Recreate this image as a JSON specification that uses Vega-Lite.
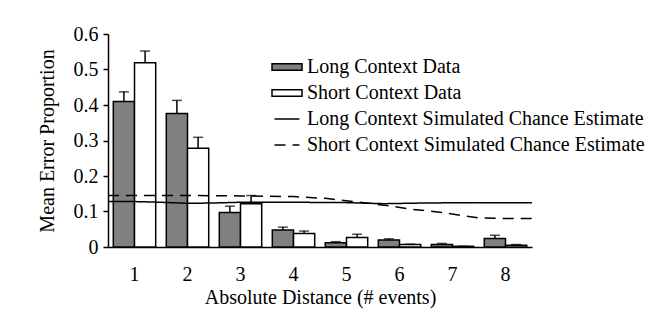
{
  "$schema": "https://vega.github.io/schema/vega-lite/v6.json",
  "width": 424,
  "height": 213,
  "autosize": {"type": "none"},
  "padding": {"left": 108, "top": 34, "right": 139, "bottom": 64},
  "background": "white",
  "config": {
    "view": {"stroke": null},
    "font": "Liberation Serif",
    "axis": {
      "labelFont": "Liberation Serif",
      "titleFont": "Liberation Serif",
      "labelFontSize": 20,
      "titleFontSize": 20,
      "titleFontWeight": "normal",
      "labelColor": "black",
      "titleColor": "black",
      "domainColor": "black",
      "domainWidth": 1.5,
      "tickColor": "black",
      "tickWidth": 1.5,
      "labelOverlap": false,
      "grid": false
    },
    "legend": {
      "labelFont": "Liberation Serif",
      "labelFontSize": 20,
      "labelColor": "black",
      "labelLimit": 500
    }
  },
  "datasets": {
    "bars": [
      {"d": 1, "series": "Long Context Data", "v": 0.41, "err": 0.437},
      {"d": 1, "series": "Short Context Data", "v": 0.519, "err": 0.552},
      {"d": 2, "series": "Long Context Data", "v": 0.376, "err": 0.413},
      {"d": 2, "series": "Short Context Data", "v": 0.278, "err": 0.309},
      {"d": 3, "series": "Long Context Data", "v": 0.097, "err": 0.115},
      {"d": 3, "series": "Short Context Data", "v": 0.122, "err": 0.145},
      {"d": 4, "series": "Long Context Data", "v": 0.048, "err": 0.056},
      {"d": 4, "series": "Short Context Data", "v": 0.038, "err": 0.045},
      {"d": 5, "series": "Long Context Data", "v": 0.012, "err": 0.015},
      {"d": 5, "series": "Short Context Data", "v": 0.027, "err": 0.036},
      {"d": 6, "series": "Long Context Data", "v": 0.02, "err": 0.023},
      {"d": 6, "series": "Short Context Data", "v": 0.007, "err": 0.008},
      {"d": 7, "series": "Long Context Data", "v": 0.007, "err": 0.01},
      {"d": 7, "series": "Short Context Data", "v": 0.002, "err": 0.002},
      {"d": 8, "series": "Long Context Data", "v": 0.024, "err": 0.033},
      {"d": 8, "series": "Short Context Data", "v": 0.005, "err": 0.007}
    ],
    "lines": [
      {"p": 0.5, "series": "Long Context Simulated Chance Estimate", "v": 0.128},
      {"p": 1, "series": "Long Context Simulated Chance Estimate", "v": 0.128},
      {"p": 1.5, "series": "Long Context Simulated Chance Estimate", "v": 0.126},
      {"p": 2, "series": "Long Context Simulated Chance Estimate", "v": 0.123},
      {"p": 2.5, "series": "Long Context Simulated Chance Estimate", "v": 0.124},
      {"p": 3, "series": "Long Context Simulated Chance Estimate", "v": 0.126},
      {"p": 4, "series": "Long Context Simulated Chance Estimate", "v": 0.126},
      {"p": 5, "series": "Long Context Simulated Chance Estimate", "v": 0.125},
      {"p": 5.7, "series": "Long Context Simulated Chance Estimate", "v": 0.122},
      {"p": 6.5, "series": "Long Context Simulated Chance Estimate", "v": 0.124},
      {"p": 7.5, "series": "Long Context Simulated Chance Estimate", "v": 0.125},
      {"p": 8.5, "series": "Long Context Simulated Chance Estimate", "v": 0.125},
      {"p": 0.5, "series": "Short Context Simulated Chance Estimate", "v": 0.145},
      {"p": 1, "series": "Short Context Simulated Chance Estimate", "v": 0.145},
      {"p": 2, "series": "Short Context Simulated Chance Estimate", "v": 0.145},
      {"p": 3, "series": "Short Context Simulated Chance Estimate", "v": 0.144},
      {"p": 4, "series": "Short Context Simulated Chance Estimate", "v": 0.142},
      {"p": 4.6, "series": "Short Context Simulated Chance Estimate", "v": 0.137},
      {"p": 5.2, "series": "Short Context Simulated Chance Estimate", "v": 0.127},
      {"p": 5.75, "series": "Short Context Simulated Chance Estimate", "v": 0.117},
      {"p": 6.25, "series": "Short Context Simulated Chance Estimate", "v": 0.106},
      {"p": 6.75, "series": "Short Context Simulated Chance Estimate", "v": 0.098},
      {"p": 7.5, "series": "Short Context Simulated Chance Estimate", "v": 0.082},
      {"p": 8, "series": "Short Context Simulated Chance Estimate", "v": 0.08},
      {"p": 8.5, "series": "Short Context Simulated Chance Estimate", "v": 0.08}
    ]
  },
  "encoding": {
    "y": {
      "field": "v",
      "type": "quantitative",
      "scale": {"domain": [0, 0.6], "nice": false},
      "axis": {
        "title": "Mean Error Proportion",
        "values": [0, 0.1, 0.2, 0.3, 0.4, 0.5, 0.6],
        "tickCount": 7,
        "labelExpr": "datum.value == 0 ? '0' : format(datum.value, '.1f')",
        "tickSize": 5,
        "labelPadding": 5,
        "labelOverlap": false,
        "titlePadding": 16
      }
    }
  },
  "layer": [
    {
      "data": {"name": "bars"},
      "encoding": {
        "x": {
          "field": "d",
          "type": "ordinal",
          "scale": {"paddingInner": 0.2, "paddingOuter": 0.1},
          "axis": {
            "title": "Absolute Distance (# events)",
            "labelAngle": 0,
            "ticks": false,
            "labelPadding": 17,
            "titlePadding": 3
          }
        },
        "xOffset": {
          "field": "series",
          "type": "nominal",
          "sort": ["Long Context Data", "Short Context Data"],
          "scale": {"paddingInner": 0, "paddingOuter": 0}
        }
      },
      "layer": [
        {
          "mark": {"type": "bar", "stroke": "black", "strokeWidth": 1.5},
          "encoding": {
            "fill": {
              "field": "series",
              "type": "nominal",
              "scale": {
                "domain": ["Long Context Data", "Short Context Data"],
                "range": ["#808080", "#ffffff"]
              },
              "legend": {
                "title": null,
                "orient": "none",
                "legendX": 169,
                "legendY": 23,
                "symbolType": "M-3,-0.66H3V0.66H-3Z",
                "symbolSize": 100,
                "symbolStrokeColor": "black",
                "symbolStrokeWidth": 1.5,
                "symbolOpacity": 1,
                "labelOffset": 10,
                "rowPadding": 6,
                "padding": 0
              }
            }
          }
        },
        {
          "mark": {"type": "rule", "color": "black", "strokeWidth": 1.5},
          "encoding": {
            "y2": {"field": "err"}
          }
        },
        {
          "mark": {"type": "tick", "color": "black", "thickness": 1.5, "size": 10},
          "encoding": {
            "y": {"field": "err", "type": "quantitative"}
          }
        }
      ]
    },
    {
      "data": {"name": "lines"},
      "mark": {"type": "line", "color": "black", "strokeWidth": 1.5},
      "encoding": {
        "x": {
          "field": "p",
          "type": "quantitative",
          "scale": {"domain": [0.5, 8.5], "nice": false, "zero": false},
          "axis": null
        },
        "strokeDash": {
          "field": "series",
          "type": "nominal",
          "scale": {
            "domain": ["Long Context Simulated Chance Estimate", "Short Context Simulated Chance Estimate"],
            "range": [[1, 0], [11, 7]]
          },
          "legend": {
            "title": null,
            "orient": "none",
            "legendX": 169,
            "legendY": 75,
            "symbolType": "M-2.5,0H2.5",
            "symbolSize": 100,
            "symbolStrokeColor": "black",
            "symbolStrokeWidth": 1.5,
            "labelOffset": 10,
            "rowPadding": 6,
            "padding": 0
          }
        }
      }
    }
  ],
  "resolve": {"scale": {"x": "independent"}}
}
